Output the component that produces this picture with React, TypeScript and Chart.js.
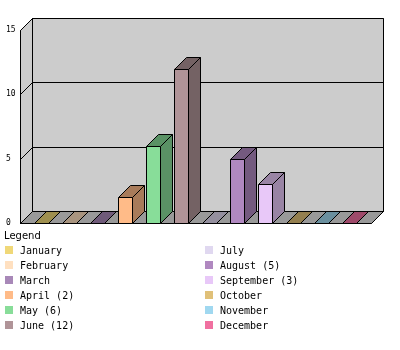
import React, { useEffect, useRef } from "react";
import { Chart, registerables } from "chart.js";

Chart.register(...registerables);

const months = ["January", "February", "March", "April", "May", "June", "July", "August", "September", "October", "November", "December"];
const values = [0, 0, 0, 2, 6, 12, 0, 5, 3, 0, 0, 0];
const colors = ["#f0d878", "#ffe0c0", "#a888b8", "#ffbb88", "#88dd99", "#b09498", "#e0d8f0", "#b088c0", "#e8c8f8", "#e0c078", "#a0d8f0", "#f070a0"];
const yTicks = [0, 5, 10, 15];
const legendTitle = "Legend";

const DX = 12;
const DY = 12;

function dark(hex: string): string {
  const n = parseInt(hex.slice(1), 16);
  const r = Math.round(((n >> 16) & 255) * 0.66);
  const g = Math.round(((n >> 8) & 255) * 0.66);
  const b = Math.round((n & 255) * 0.66);
  return `rgb(${r},${g},${b})`;
}

function poly(ctx: CanvasRenderingContext2D, pts: number[][], fill?: string, stroke = true) {
  ctx.beginPath();
  ctx.moveTo(pts[0][0], pts[0][1]);
  for (let i = 1; i < pts.length; i++) ctx.lineTo(pts[i][0], pts[i][1]);
  ctx.closePath();
  if (fill) {
    ctx.fillStyle = fill;
    ctx.fill();
  }
  if (stroke) ctx.stroke();
}

function line(ctx: CanvasRenderingContext2D, x1: number, y1: number, x2: number, y2: number) {
  ctx.beginPath();
  ctx.moveTo(x1, y1);
  ctx.lineTo(x2, y2);
  ctx.stroke();
}

const threeD = {
  id: "threeD",
  beforeDatasetsDraw(chart: any) {
    const ctx: CanvasRenderingContext2D = chart.ctx;
    const { left, right } = chart.chartArea;
    const y = chart.scales.y;
    const fl = left - 7 + 0.5;
    const fr = right + 8 + 0.5;
    const fb = Math.round(y.getPixelForValue(yTicks[0])) + 0.5;
    const ft = Math.round(y.getPixelForValue(yTicks[yTicks.length - 1])) + 0.5;
    ctx.save();
    ctx.lineWidth = 1;
    ctx.strokeStyle = "#000";
    poly(ctx, [[fl + DX, ft - DY], [fr + DX, ft - DY], [fr + DX, fb - DY], [fl + DX, fb - DY]], "#cccccc");
    poly(ctx, [[fl, ft], [fl + DX, ft - DY], [fl + DX, fb - DY], [fl, fb]], "#cccccc");
    poly(ctx, [[fl, fb], [fr, fb], [fr + DX, fb - DY], [fl + DX, fb - DY]], "#999999");
    for (const t of yTicks) {
      const py = Math.round(y.getPixelForValue(t)) + 0.5;
      line(ctx, fl + DX, py - DY, fr + DX, py - DY);
      line(ctx, fl, py, fl + DX, py - DY);
    }
    line(ctx, fl, ft, fl, fb);
    const meta = chart.getDatasetMeta(0);
    meta.data.forEach((el: any, i: number) => {
      const x0 = Math.round(el.x - el.width / 2) + 0.5;
      const x1 = Math.round(el.x + el.width / 2) + 0.5;
      if (values[i] === 0) {
        poly(ctx, [[x0, fb], [x1, fb], [x1 + DX, fb - DY], [x0 + DX, fb - DY]], dark(colors[i]), false);
      }
      line(ctx, x0, fb, x0 + DX, fb - DY);
      line(ctx, x1, fb, x1 + DX, fb - DY);
    });
    line(ctx, fl, fb, fr, fb);
    line(ctx, fl + DX, fb - DY, fr + DX, fb - DY);
    ctx.restore();
  },
  afterDatasetsDraw(chart: any) {
    const ctx: CanvasRenderingContext2D = chart.ctx;
    const meta = chart.getDatasetMeta(0);
    ctx.save();
    ctx.lineWidth = 1;
    ctx.strokeStyle = "#000";
    meta.data.forEach((el: any, i: number) => {
      if (values[i] === 0) return;
      const x0 = Math.round(el.x - el.width / 2) + 0.5;
      const x1 = Math.round(el.x + el.width / 2) + 0.5;
      const yt = Math.round(el.y) + 0.5;
      const yb = Math.round(el.base) + 0.5;
      const d = dark(colors[i]);
      poly(ctx, [[x1, yt], [x1 + DX, yt - DY], [x1 + DX, yb - DY], [x1, yb]], d);
      poly(ctx, [[x0, yt], [x1, yt], [x1 + DX, yt - DY], [x0 + DX, yt - DY]], d);
      poly(ctx, [[x0, yt], [x1, yt], [x1, yb], [x0, yb]], colors[i]);
    });
    ctx.restore();
  },
  afterDraw(chart: any) {
    const ctx: CanvasRenderingContext2D = chart.ctx;
    const y = chart.scales.y;
    ctx.save();
    ctx.fillStyle = "#000";
    ctx.textAlign = "left";
    ctx.textBaseline = "middle";
    ctx.font = '8px "DejaVu Sans Mono"';
    for (const t of yTicks) {
      ctx.fillText(String(t), 6, Math.round(y.getPixelForValue(t)) - 0.5);
    }
    ctx.font = '10px "DejaVu Sans"';
    ctx.textBaseline = "alphabetic";
    ctx.fillText(legendTitle, 4, 239);
    ctx.font = '10px "DejaVu Sans Mono"';
    ctx.textBaseline = "middle";
    months.forEach((m, i) => {
      const col = i < 6 ? 0 : 1;
      const row = i % 6;
      const lx = col === 0 ? 5 : 205;
      const ly = 250 + row * 15;
      ctx.fillStyle = colors[i];
      ctx.fillRect(lx, ly - 4, 8, 8);
      ctx.fillStyle = "#000";
      const label = values[i] > 0 ? `${m} (${values[i]})` : m;
      ctx.fillText(label, lx + 15, ly + 1);
    });
    ctx.restore();
  },
};

export default function App() {
  const ref = useRef<HTMLCanvasElement | null>(null);
  useEffect(() => {
    if (!ref.current) return;
    const chart = new Chart(ref.current, {
      type: "bar",
      data: {
        labels: months,
        datasets: [
          {
            data: values,
            backgroundColor: colors,
            borderWidth: 0,
            categoryPercentage: 1,
            barPercentage: 0.5,
          },
        ],
      },
      options: {
        animation: false,
        responsive: false,
        devicePixelRatio: 1,
        layout: { padding: { left: 27, right: 37, top: 30, bottom: 127 } },
        plugins: { legend: { display: false }, tooltip: { enabled: false } },
        scales: {
          x: { display: false },
          y: { display: false, min: 0, max: 15 },
        },
      },
      plugins: [threeD],
    });
    return () => chart.destroy();
  }, []);
  return (
    <div style={{ position: "fixed", left: 0, top: 0, width: 400, height: 350, background: "#fff" }}>
      <canvas ref={ref} width={400} height={350} style={{ display: "block" }} />
    </div>
  );
}
